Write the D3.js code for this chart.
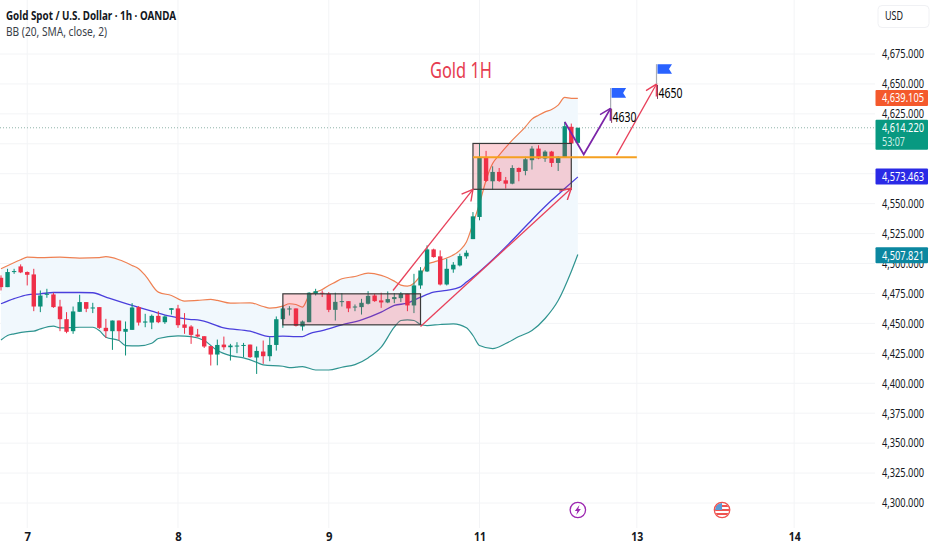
<!DOCTYPE html>
<html>
<head>
<meta charset="utf-8">
<style>
  html, body { margin: 0; padding: 0; background: #fff; }
  svg { display: block; }
  text { font-family: "Noto Sans", sans-serif; }
  .axis text { font-size: 12px; fill: #131722; }
  .axis path, .axis line { display: none; }
</style>
</head>
<body>
<div id="chart"></div>
<script src="https://cdn.jsdelivr.net/npm/d3@7"></script>
<script>
// Hourly candles, one entry per bar
var opens = [4488.1,4480.3,4492.9,4497.6,4492.9,4490.9,4464.1,4473.9,4474.2,4464.1,4453.5,4443.5,4459.7,4467.8,4462.5,4463.6,4446.3,4443.5,4452.4,4443.0,4444.6,4463.6,4450.7,4450.7,4456.3,4451.0,4461.3,4462.5,4449.1,4447.4,4440.7,4439.3,4431.0,4424.0,4432.3,4430.1,4430.7,4431.5,4432.3,4421.5,4426.5,4422.6,4432.0,4453.5,4461.6,4462.5,4447.4,4451.0,4474.7,4475.6,4474.7,4461.3,4467.8,4468.6,4463.6,4463.6,4466.4,4473.3,4469.2,4467.5,4470.3,4471.1,4474.7,4465.0,4481.7,4493.4,4511.8,4506.0,4482.5,4495.1,4498.4,4506.0,4520.4,4538.9,4588.5,4568.7,4576.5,4569.5,4566.7,4579.8,4577.3,4586.3,4596.0,4587.7,4593.5,4584.0,4588.5,4614.2,4600.8];
var highs = [4490.1,4495.6,4495.6,4499.3,4493.4,4495.6,4477.5,4478.9,4475.6,4469.7,4459.4,4464.1,4473.9,4467.8,4467.2,4463.6,4453.8,4452.4,4452.4,4451.6,4466.9,4464.4,4458.0,4457.4,4460.2,4456.6,4462.7,4465.5,4458.6,4448.5,4445.4,4439.3,4431.0,4436.5,4439.0,4432.9,4434.3,4433.7,4432.3,4430.7,4435.7,4438.5,4455.8,4464.1,4464.4,4462.5,4452.4,4476.1,4478.9,4477.5,4476.1,4475.6,4475.3,4468.6,4465.8,4470.5,4476.9,4474.7,4475.6,4476.7,4475.3,4476.1,4474.7,4491.4,4497.0,4515.2,4512.4,4511.0,4504.0,4501.2,4508.2,4511.0,4543.0,4600.2,4594.1,4581.2,4579.8,4572.3,4582.1,4580.2,4589.1,4598.0,4598.8,4594.6,4594.1,4589.6,4618.3,4616.9,4613.6];
var lows = [4477.5,4480.3,4491.4,4492.0,4481.7,4460.2,4459.4,4471.4,4463.0,4443.5,4441.8,4441.3,4459.7,4459.4,4458.6,4445.4,4437.9,4427.9,4435.7,4423.2,4444.6,4448.2,4446.8,4445.2,4450.2,4449.6,4457.4,4446.3,4441.3,4432.9,4438.5,4429.5,4414.8,4415.0,4427.9,4419.0,4425.1,4421.8,4421.2,4407.8,4416.2,4418.4,4427.3,4446.3,4456.6,4447.4,4444.0,4451.0,4473.3,4472.0,4459.4,4452.4,4464.1,4459.4,4460.2,4457.4,4465.8,4468.0,4463.0,4466.9,4466.9,4467.8,4460.2,4458.6,4478.9,4492.9,4504.9,4481.7,4481.7,4492.3,4497.6,4504.0,4520.4,4536.1,4568.1,4561.7,4568.1,4562.6,4566.2,4568.7,4573.7,4578.5,4587.1,4584.9,4580.7,4577.3,4588.5,4599.7,4600.2];
var closes = [4480.3,4492.9,4493.7,4492.6,4490.6,4464.1,4473.3,4474.7,4463.6,4453.5,4443.0,4460.0,4467.8,4462.2,4463.3,4446.3,4443.5,4452.4,4443.5,4445.4,4463.3,4450.7,4451.6,4456.3,4451.0,4455.8,4462.7,4448.5,4446.3,4440.4,4439.0,4430.7,4424.0,4432.0,4430.1,4431.5,4431.5,4432.0,4421.8,4427.0,4422.6,4432.0,4453.5,4462.5,4462.5,4448.0,4451.6,4475.6,4476.9,4475.0,4461.3,4468.0,4468.6,4462.5,4464.1,4467.2,4473.0,4468.6,4467.5,4470.3,4472.0,4474.7,4465.0,4481.7,4494.2,4511.8,4505.4,4482.5,4495.6,4499.0,4506.2,4509.0,4539.4,4588.5,4569.0,4576.5,4569.0,4566.7,4579.8,4576.5,4587.1,4596.0,4587.7,4593.5,4584.0,4589.1,4614.7,4600.2,4613.3];

// Bollinger bands, bar index and price
var bbTopIdx = [0,3,4,6,9,12,15,16,18,20,21,22,24,26,28,30,32,33,35,38,40,41,43,44,45,46,47,48,49,50,51,52,54,56,58,59,60,61,62,63,64,65,66,68,70,71,72,73,74,75,76,78,80,81,82,83,84,85,86,87,88];
var bbTop = [4495.6,4503.2,4505.4,4504.9,4505.4,4504.6,4504.9,4505.7,4503.2,4498.4,4495.6,4490.1,4476.1,4473.3,4468.6,4469.2,4470.0,4469.2,4466.9,4467.2,4464.1,4462.7,4464.4,4466.4,4465.8,4463.6,4473.3,4476.1,4478.3,4481.7,4484.5,4487.3,4489.2,4492.0,4490.1,4488.1,4485.3,4482.0,4481.1,4483.6,4490.1,4499.3,4501.2,4504.6,4511.0,4518.0,4533.3,4550.0,4569.6,4583.5,4590.5,4603.0,4614.2,4620.6,4623.9,4626.7,4628.7,4632.3,4638.7,4637.9,4637.9];
var bbMidIdx = [0,2,4,6,8,12,14,16,20,23,26,29,30,34,38,41,43,45,46,47,49,52,55,58,60,62,64,66,68,70,71,72,75,78,81,84,86,88];
var bbMid = [4466.4,4470.6,4473.9,4474.7,4475.8,4475.8,4475.6,4472.0,4465.0,4460.2,4455.8,4453.2,4453.0,4446.3,4443.5,4439.0,4439.3,4439.0,4439.0,4441.3,4444.0,4448.8,4453.0,4459.4,4465.0,4466.9,4471.9,4476.1,4477.5,4480.3,4484.5,4488.7,4503.2,4519.4,4536.6,4552.8,4562.6,4572.3];
var bbLowIdx = [0,1,2,4,5,6,8,9,12,14,15,16,18,19,21,23,24,27,29,31,33,35,37,39,40,43,44,45,46,48,50,52,54,56,58,60,61,62,63,64,65,67,69,71,72,73,75,77,79,81,83,85,87,88];
var bbLow = [4436.2,4439.9,4441.3,4443.2,4443.5,4445.4,4447.7,4446.3,4446.8,4446.8,4444.0,4438.5,4435.7,4431.5,4431.2,4433.4,4437.4,4439.6,4439.0,4435.7,4427.3,4423.1,4421.2,4417.5,4415.3,4414.2,4413.1,4413.4,4413.9,4411.1,4411.1,4413.4,4415.6,4421.2,4430.1,4446.8,4452.4,4453.0,4452.4,4449.1,4448.2,4449.1,4449.6,4446.3,4439.9,4431.5,4429.0,4433.2,4439.0,4444.0,4454.1,4469.1,4493.4,4507.6];

// Axis labels
var priceTicks = [4675,4650,4625,4600,4575,4550,4525,4500,4475,4450,4425,4400,4375,4350,4325,4300];
var dayIdx = [4,27,50,73,97,121];
var dayLabels = ["7","8","9","11","13","14"];

// Last value tags
var lastClose = 4614.22;
var tagPrices = [4639.105,4614.22,4573.463,4507.821];
var tagColors = ["#f4592c","#089981","#2a2ae6","#0b87a0"];

// Drawings on the chart, bar index and price
var boxLeft = [43,72];
var boxRight = [64,87];
var boxTop = [4474.7,4600.3];
var boxBottom = [4448.8,4562.0];
var levelIdx = [72,97];
var levelPrice = 4588.8;
var arrowFromIdx = [59.8,64,93.9];
var arrowFromPrice = [4477.5,4447.4,4590.5];
var arrowToIdx = [72,87,100];
var arrowToPrice = [4562,4562.9,4649.9];
var zigzagIdx = [86,88.9,93];
var zigzagPrice = [4618.3,4591.1,4629.6];
var flagIdx = [93,100];
var flagLow = [4630,4650];
var flagHigh = [4646.5,4666.5];
var flagLabels = ["4630","4650"];
var eventIdx = [88,110];

var svgWidth = 932;
var svgHeight = 550;
var plotRight = 875;

var x = d3.scaleLinear().domain([0, 100]).range([1, 656.5]);
var y = d3.scaleLinear().domain([4300, 4675]).range([503, 54]);

var svg = d3.select("#chart").append("svg")
  .attr("width", svgWidth)
  .attr("height", svgHeight);

svg.append("clipPath").attr("id", "plot")
  .append("rect").attr("x", 0).attr("y", 0).attr("width", plotRight).attr("height", 528);

// grid
var grid = svg.append("g");
grid.selectAll("line.h").data(priceTicks).enter().append("line")
  .attr("class", "h")
  .attr("x1", 0).attr("x2", plotRight)
  .attr("y1", d => y(d)).attr("y2", d => y(d))
  .attr("stroke", "#f3f4f6");
grid.selectAll("line.v").data(dayIdx).enter().append("line")
  .attr("class", "v")
  .attr("x1", d => x(d)).attr("x2", d => x(d))
  .attr("y1", 0).attr("y2", 528)
  .attr("stroke", "#f3f4f6");

var plot = svg.append("g").attr("clip-path", "url(#plot)");

// BB fill, top band forward and lower band back
var bandLine = d3.line().x(d => x(d[0])).y(d => y(d[1])).curve(d3.curveMonotoneX);
var topPts = bbTopIdx.map((d, i) => [d, bbTop[i]]);
var midPts = bbMidIdx.map((d, i) => [d, bbMid[i]]);
var lowPts = bbLowIdx.map((d, i) => [d, bbLow[i]]);
var polyPts = topPts.concat(lowPts.slice().reverse());

plot.append("path")
  .attr("d", d3.line().x(d => x(d[0])).y(d => y(d[1]))(polyPts))
  .attr("fill", "#f1f8fd");

plot.append("path").attr("d", bandLine(topPts)).attr("fill", "none").attr("stroke", "#ef8052").attr("stroke-width", 1.2);
plot.append("path").attr("d", bandLine(midPts)).attr("fill", "none").attr("stroke", "#4a3fdc").attr("stroke-width", 1.3);
plot.append("path").attr("d", bandLine(lowPts)).attr("fill", "none").attr("stroke", "#2f9490").attr("stroke-width", 1.2);

// last price line
plot.append("line")
  .attr("x1", 0).attr("x2", plotRight)
  .attr("y1", y(lastClose) + 1).attr("y2", y(lastClose) + 1)
  .attr("stroke", "#8fb3aa").attr("stroke-dasharray", "1,2");

// candles
var barColor = i => closes[i] >= opens[i] ? "#0b8f78" : "#ee2f48";
var bars = d3.range(opens.length);
plot.selectAll("line.wick").data(bars).enter().append("line")
  .attr("class", "wick")
  .attr("x1", i => x(i)).attr("x2", i => x(i))
  .attr("y1", i => y(highs[i])).attr("y2", i => y(lows[i]))
  .attr("stroke", barColor);
plot.selectAll("rect.body").data(bars).enter().append("rect")
  .attr("class", "body")
  .attr("x", i => x(i) - 2.2)
  .attr("width", 4.4)
  .attr("y", i => y(Math.max(opens[i], closes[i])))
  .attr("height", i => Math.max(1, Math.abs(y(opens[i]) - y(closes[i]))))
  .attr("fill", barColor);

// pink boxes
plot.selectAll("rect.box").data(boxLeft).enter().append("rect")
  .attr("class", "box")
  .attr("x", (d, i) => x(d))
  .attr("y", (d, i) => y(boxTop[i]))
  .attr("width", (d, i) => x(boxRight[i]) - x(d))
  .attr("height", (d, i) => y(boxBottom[i]) - y(boxTop[i]))
  .attr("fill", "#f7304a").attr("fill-opacity", 0.22)
  .attr("stroke", "#3a3a3a").attr("stroke-width", 1.2);

// orange level
plot.append("line")
  .attr("x1", x(levelIdx[0])).attr("x2", x(levelIdx[1]))
  .attr("y1", y(levelPrice)).attr("y2", y(levelPrice))
  .attr("stroke", "#f5a020").attr("stroke-width", 2);

// arrow heads
function addHead(id, color) {
  svg.append("marker").attr("id", id)
    .attr("viewBox", "-11 -6 12 12")
    .attr("markerUnits", "userSpaceOnUse")
    .attr("markerWidth", 13).attr("markerHeight", 13)
    .attr("orient", "auto")
    .append("path")
    .attr("d", "M-10,-5.5L0,0L-10,5.5")
    .attr("fill", "none").attr("stroke", color).attr("stroke-width", 1.3);
}
addHead("headRed", "#e8405a");
addHead("headPurple", "#7b24a8");

plot.selectAll("line.arrow").data(arrowFromIdx).enter().append("line")
  .attr("class", "arrow")
  .attr("x1", d => x(d))
  .attr("y1", (d, i) => y(arrowFromPrice[i]))
  .attr("x2", (d, i) => x(arrowToIdx[i]))
  .attr("y2", (d, i) => y(arrowToPrice[i]))
  .attr("stroke", "#e8405a").attr("stroke-width", 1.3)
  .attr("marker-end", "url(#headRed)");

var zigzag = zigzagIdx.map((d, i) => [d, zigzagPrice[i]]);
plot.append("path")
  .attr("d", d3.line().x(d => x(d[0])).y(d => y(d[1]))(zigzag))
  .attr("fill", "none").attr("stroke", "#7b24a8").attr("stroke-width", 1.8)
  .attr("marker-end", "url(#headPurple)");

// flags
flagIdx.forEach(function(d, i) {
  var fx = x(d);
  var top = y(flagHigh[i]);
  var g = plot.append("g");
  g.append("line")
    .attr("x1", fx).attr("x2", fx)
    .attr("y1", top).attr("y2", y(flagLow[i]))
    .attr("stroke", "#a9acb4").attr("stroke-width", 1.2);
  g.append("path")
    .attr("d", `M${fx + 1},${top}h14.5l-3,4.8l3,4.8h-14.5z`)
    .attr("fill", "#2962ff");
  g.append("line")
    .attr("x1", fx + 1).attr("x2", fx + 1)
    .attr("y1", y(flagLow[i]) + 1).attr("y2", y(flagLow[i]) + 15)
    .attr("stroke", "#8a3a5a").attr("stroke-width", 1);
  g.append("text")
    .attr("x", fx + 2)
    .attr("y", y(flagLow[i]) + 14)
    .attr("font-size", 13.5)
    .attr("textLength", 24)
    .attr("lengthAdjust", "spacingAndGlyphs")
    .attr("fill", "#000")
    .text(flagLabels[i]);
});

// title on the chart
svg.append("text")
  .attr("x", 430).attr("y", 78)
  .attr("font-size", 22)
  .attr("textLength", 62)
  .attr("lengthAdjust", "spacingAndGlyphs")
  .attr("fill", "#e63b50")
  .text("Gold 1H");

// axes
var yAxis = d3.axisRight(y)
  .tickValues(priceTicks)
  .tickFormat(d3.format(",.3f"))
  .tickSize(0)
  .tickPadding(0);
svg.append("g").attr("class", "axis")
  .attr("transform", "translate(882,0)")
  .call(yAxis)
  .selectAll("text")
  .attr("textLength", 42)
  .attr("lengthAdjust", "spacingAndGlyphs");

var xAxis = d3.axisBottom(x)
  .tickValues(dayIdx)
  .tickFormat((d, i) => dayLabels[i])
  .tickSize(0)
  .tickPadding(0);
svg.append("g").attr("class", "axis")
  .attr("transform", "translate(0,532)")
  .call(xAxis)
  .selectAll("text")
  .style("font-size", "12px").style("font-weight", "bold")
  .attr("textLength", d => d >= 73 ? 12 : 6.5)
  .attr("lengthAdjust", "spacingAndGlyphs");

// price tags
var tags = svg.selectAll("g.tag").data(tagPrices).enter().append("g")
  .attr("class", "tag")
  .attr("transform", d => `translate(875.5,${y(d) + 1})`);
tags.append("rect")
  .attr("x", 0)
  .attr("y", -8)
  .attr("width", 52.5)
  .attr("height", (d, i) => i === 1 ? 30 : 16)
  .attr("rx", 1)
  .attr("fill", (d, i) => tagColors[i]);
tags.append("text")
  .attr("x", 6.5).attr("y", 4.5)
  .attr("font-size", 12)
  .attr("textLength", 42)
  .attr("lengthAdjust", "spacingAndGlyphs")
  .attr("fill", "#fff")
  .text(d => d3.format(",.3f")(d));
tags.filter((d, i) => i === 1).append("text")
  .attr("x", 6.5).attr("y", 18)
  .attr("font-size", 12)
  .attr("textLength", 23)
  .attr("lengthAdjust", "spacingAndGlyphs")
  .attr("fill", "#cfeee7")
  .text("53:07");

// USD button
svg.append("rect")
  .attr("x", 878).attr("y", 5.5).attr("width", 51).attr("height", 22)
  .attr("rx", 4)
  .attr("fill", "#fff").attr("stroke", "#f0f1f4");
svg.append("text")
  .attr("x", 885).attr("y", 20)
  .attr("font-size", 12).attr("fill", "#131722")
  .attr("textLength", 18)
  .attr("lengthAdjust", "spacingAndGlyphs")
  .text("USD");

// header
svg.append("text")
  .attr("x", 6).attr("y", 20)
  .attr("font-size", 12.5)
  .attr("font-weight", "bold")
  .attr("textLength", 170)
  .attr("lengthAdjust", "spacingAndGlyphs")
  .attr("fill", "#131722")
  .text("Gold Spot / U.S. Dollar · 1h · OANDA");
svg.append("text")
  .attr("x", 6).attr("y", 36)
  .attr("font-size", 12.5)
  .attr("textLength", 101)
  .attr("lengthAdjust", "spacingAndGlyphs")
  .attr("fill", "#3a3e48")
  .text("BB (20, SMA, close, 2)");

// event icons
var bolt = svg.append("g").attr("transform", `translate(${x(eventIdx[0])},510)`);
bolt.append("circle").attr("r", 7.7).attr("fill", "#fff").attr("stroke", "#9c27b0").attr("stroke-width", 1.3);
bolt.append("path").attr("d", "M1.6,-5L-3,1H-0.5L-1.6,5L3,-1H0.5Z").attr("fill", "#9c27b0");

var usa = svg.append("g").attr("transform", `translate(${x(eventIdx[1])},510)`);
usa.append("clipPath").attr("id", "usaClip").append("circle").attr("r", 7);
var usaInner = usa.append("g").attr("clip-path", "url(#usaClip)");
usaInner.append("rect").attr("x", -8).attr("y", -8).attr("width", 16).attr("height", 16).attr("fill", "#fff");
usaInner.selectAll("rect.stripe").data([-5, -1, 3]).enter().append("rect")
  .attr("class", "stripe")
  .attr("x", -8).attr("width", 16)
  .attr("y", d => d).attr("height", 2)
  .attr("fill", "#ef5350");
usaInner.append("rect").attr("x", -8).attr("y", -8).attr("width", 8).attr("height", 8).attr("fill", "#5b9bd5");
usa.append("circle").attr("r", 7.7).attr("fill", "none").attr("stroke", "#ef5350").attr("stroke-width", 1.3);
</script>
</body>
</html>
